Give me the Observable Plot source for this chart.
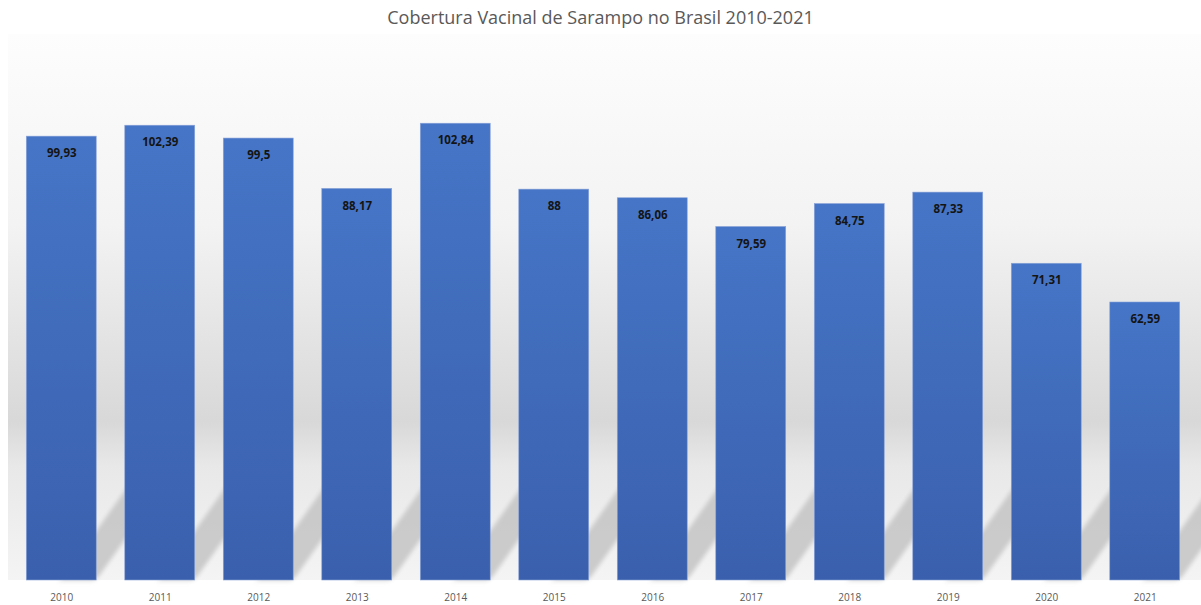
<!DOCTYPE html>
<html>
<head>
<meta charset="utf-8">
<script src="https://cdn.jsdelivr.net/npm/d3@7"></script>
<script src="https://cdn.jsdelivr.net/npm/@observablehq/plot@0.6"></script>
<style>
  html, body { margin: 0; padding: 0; background: #ffffff; overflow: hidden; }
  #title { height: 34px; display: flex; align-items: center; justify-content: center;
    font-family: "Open Sans", sans-serif; font-size: 18px; color: #595959; }
  #chart svg { display: block; }
</style>
</head>
<body>
<div id="title">Cobertura Vacinal de Sarampo no Brasil 2010-2021</div>
<div id="chart"></div>
<script>
const years = ["2010","2011","2012","2013","2014","2015","2016","2017","2018","2019","2020","2021"];
const coverage = [99.93, 102.39, 99.5, 88.17, 102.84, 88, 86.06, 79.59, 84.75, 87.33, 71.31, 62.59];
const valueLabels = ["99,93","102,39","99,5","88,17","102,84","88","86,06","79,59","84,75","87,33","71,31","62,59"];

const data = years.map((year, i) => ({year, value: coverage[i], label: valueLabels[i]}));

const SHADOW_H = 22.5; // decorative shadow height (data units)

const plot = Plot.plot({
  width: 1201,
  height: 571,
  marginTop: 13,
  marginBottom: 25,
  marginLeft: 12,
  marginRight: 7,
  x: {domain: years, paddingInner: 0.29, paddingOuter: 0.145, round: false, label: null},
  y: {domain: [0, 120], axis: null},
  style: {fontFamily: "'Open Sans', sans-serif", background: "transparent", color: "#595959"},
  marks: [
    Plot.barY(data, {x: "year", y: () => SHADOW_H, insetLeft: 35, fill: "#c4c4c4", fillOpacity: 0.85}),
    Plot.barY(data, {x: "year", y: "value", fill: "url(#barGrad)", stroke: "#8aa3d8", strokeWidth: 0.6}),
    Plot.text(data, {x: "year", y: "value", text: "label", dy: 17, fontWeight: "bold", fontSize: 11.5, fill: "#141414"}),
    Plot.axisX({tickSize: 0, tickPadding: 13, fontSize: 10, label: null})
  ]
});

const ns = "http://www.w3.org/2000/svg";
const y0 = plot.scale("y").apply(0);
const defs = document.createElementNS(ns, "defs");
defs.innerHTML = `
  <linearGradient id="barGrad" x1="0" y1="0" x2="0" y2="1">
    <stop offset="0" stop-color="#4675c7"/>
    <stop offset="1" stop-color="#3a60ad"/>
  </linearGradient>
  <linearGradient id="bgGrad" x1="0" y1="0" x2="0" y2="1">
    <stop offset="0" stop-color="#fdfdfd"/>
    <stop offset="0.35" stop-color="#f3f3f3"/>
    <stop offset="0.71" stop-color="#d8d8d8"/>
    <stop offset="0.79" stop-color="#e8e8e8"/>
    <stop offset="1" stop-color="#f4f4f4"/>
  </linearGradient>
  <filter id="blur" x="-20%" y="-20%" width="140%" height="140%">
    <feGaussianBlur stdDeviation="2.4"/>
  </filter>`;
plot.insertBefore(defs, plot.firstChild);
const bg = document.createElementNS(ns, "rect");
bg.setAttribute("x", 8);
bg.setAttribute("y", 0);
bg.setAttribute("width", 1201 - 8);
bg.setAttribute("height", y0);
bg.setAttribute("fill", "url(#bgGrad)");
defs.after(bg);

const barGroups = plot.querySelectorAll('g[aria-label="bar"]');
if (barGroups.length) {
  const shadow = barGroups[0];
  const wrap = document.createElementNS(ns, "g");
  shadow.parentNode.insertBefore(wrap, shadow);
  wrap.appendChild(shadow);
  wrap.setAttribute("transform", `translate(0,${y0}) skewX(-35.4) translate(0,${-y0})`);
  wrap.setAttribute("filter", "url(#blur)");
}

document.getElementById("chart").appendChild(plot);
</script>
</body>
</html>
